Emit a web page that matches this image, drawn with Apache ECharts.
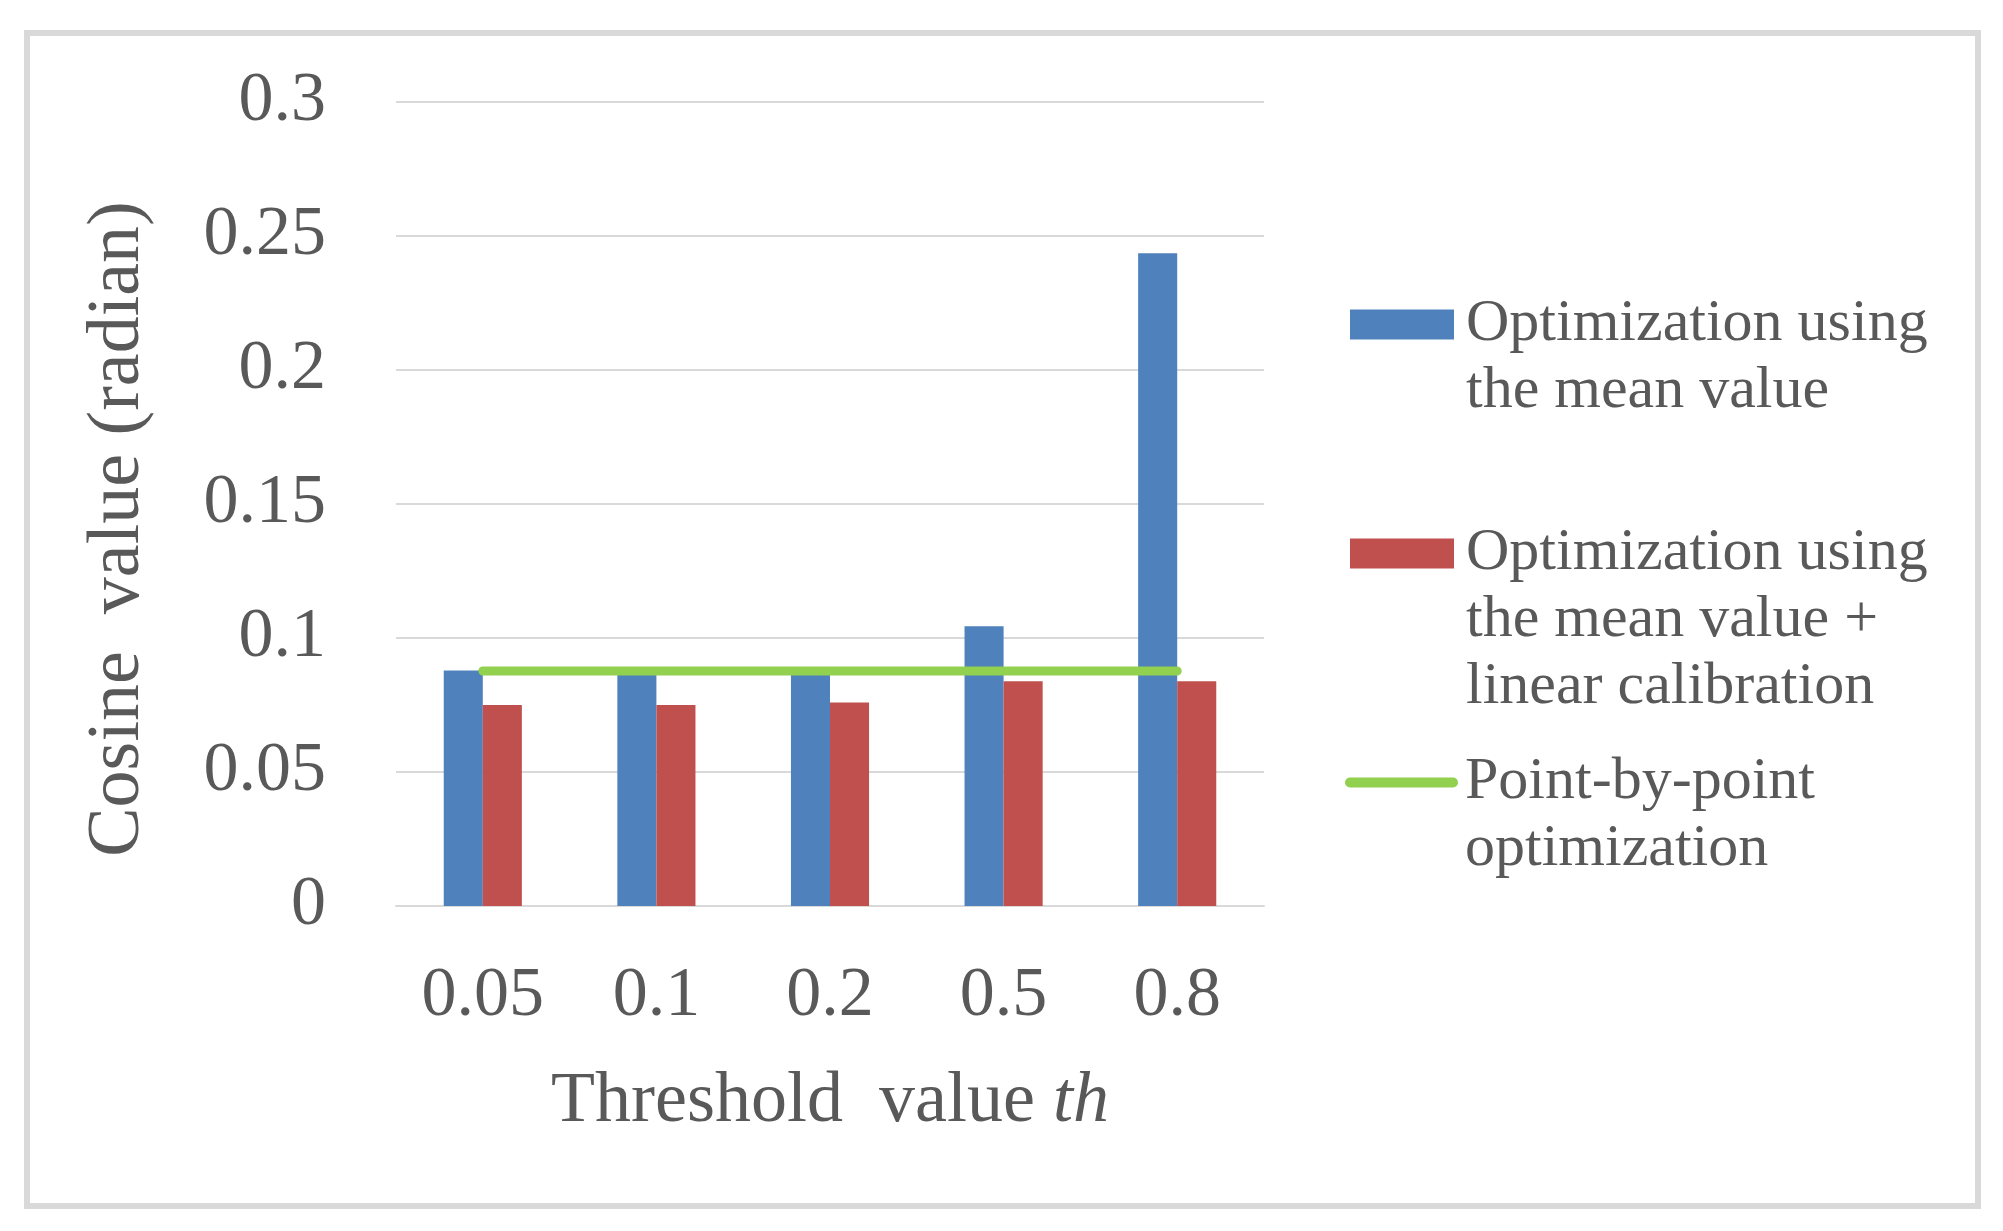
<!DOCTYPE html>
<html>
<head>
<meta charset="utf-8">
<script src="https://cdn.jsdelivr.net/npm/echarts@6/dist/echarts.min.js"></script>
<style>
html,body{margin:0;padding:0;background:#fff;}
#chart{width:2003px;height:1231px;}
</style>
</head>
<body>
<div id="chart"></div>
<script>
// ---- data ----
const categories = ['0.05', '0.1', '0.2', '0.5', '0.8'];
const meanValue = [0.0879, 0.0875, 0.0875, 0.1044, 0.2436];
const meanCalibrated = [0.0750, 0.0750, 0.0759, 0.0839, 0.0839];
const pointByPoint = [0.0877, 0.0877, 0.0877, 0.0877, 0.0877];
const seriesNames = [
  'Optimization using the mean value',
  'Optimization using the mean value + linear calibration',
  'Point-by-point optimization'
];
const legendLines = [
  ['Optimization using', 'the mean value'],
  ['Optimization using', 'the mean value +', 'linear calibration'],
  ['Point-by-point', 'optimization']
];
const yMin = 0, yMax = 0.3, yStep = 0.05;
const xTitle = 'Threshold  value ';
const xTitleItalic = 'th';
const yTitle = 'Cosine  value (radian)';

// ---- style ----
const FONT = '"Liberation Serif", "Times New Roman", serif';
const TXT = '#595959';
const GRID = '#d9d9d9';
const colors = ['#4f81bd', '#c0504d', '#92d050'];
const LH = 67;

function makeLegend(idx, top, left, icon, w, h) {
  const lines = legendLines[idx];
  const n = lines.length;
  // pad with empty lines above so the first text line is centred on the icon
  const padded = new Array(n - 1).fill('').concat(lines).join('\n');
  return {
    data: [seriesNames[idx]],
    left: left,
    top: top,
    padding: 0,
    orient: 'vertical',
    selectedMode: false,
    icon: icon,
    itemWidth: w,
    itemHeight: h,
    lineStyle: { width: 10, cap: 'round' },
    formatter: () => padded,
    textStyle: {
      fontFamily: FONT,
      fontSize: 60,
      color: TXT,
      lineHeight: LH,
      padding: [0, 0, 0, 7],
      backgroundColor: 'rgba(0,0,0,0)'
    }
  };
}

const chart = echarts.init(document.getElementById('chart'), null, { renderer: 'canvas' });
const option = {
  backgroundColor: '#fff',
  animation: false,
  textStyle: { fontFamily: FONT, color: TXT },
  graphic: [{
    type: 'rect',
    shape: { x: 27, y: 33, width: 1951, height: 1173 },
    style: { fill: 'none', stroke: GRID, lineWidth: 6 },
    silent: true
  }],
  grid: { left: 396, right: 739, top: 102, bottom: 325, containLabel: false },
  legend: [
    makeLegend(0, 224, 1350, 'rect', 104, 30),
    makeLegend(1, 386, 1350, 'rect', 104, 30),
    makeLegend(2, 682, 1345, undefined, 103, 10)
  ],
  xAxis: {
    type: 'category',
    data: categories,
    axisLine: { show: true, lineStyle: { color: GRID, width: 2 } },
    axisTick: { show: false },
    axisLabel: { fontFamily: FONT, fontSize: 70, color: TXT, margin: 56 },
    name: '{a|' + xTitle + '}{b|' + xTitleItalic + '}',
    nameLocation: 'middle',
    nameGap: 160,
    nameTextStyle: {
      fontFamily: FONT, fontSize: 72, color: TXT,
      rich: {
        a: { fontFamily: FONT, fontSize: 72, color: TXT },
        b: { fontFamily: FONT, fontSize: 72, color: TXT, fontStyle: 'italic' }
      }
    }
  },
  yAxis: {
    type: 'value',
    min: yMin,
    max: yMax,
    interval: yStep,
    axisLine: { show: false },
    axisTick: { show: false },
    splitLine: { show: true, lineStyle: { color: GRID, width: 2 } },
    axisLabel: { fontFamily: FONT, fontSize: 70, color: TXT, margin: 70 },
    name: yTitle,
    nameLocation: 'middle',
    nameGap: 240,
    nameTextStyle: { fontFamily: FONT, fontSize: 74, color: TXT, padding: [0, 50, 0, 0] }
  },
  series: [
    {
      name: seriesNames[0], type: 'bar', data: meanValue,
      itemStyle: { color: colors[0] },
      barGap: '0%', barCategoryGap: '55%'
    },
    {
      name: seriesNames[1], type: 'bar', data: meanCalibrated,
      itemStyle: { color: colors[1] },
      barGap: '0%', barCategoryGap: '55%'
    },
    {
      name: seriesNames[2], type: 'line', data: pointByPoint,
      symbol: 'none', showSymbol: false,
      lineStyle: { color: colors[2], width: 9, cap: 'round' },
      itemStyle: { color: colors[2] },
      z: 5
    }
  ]
};
chart.setOption(option);
</script>
</body>
</html>
